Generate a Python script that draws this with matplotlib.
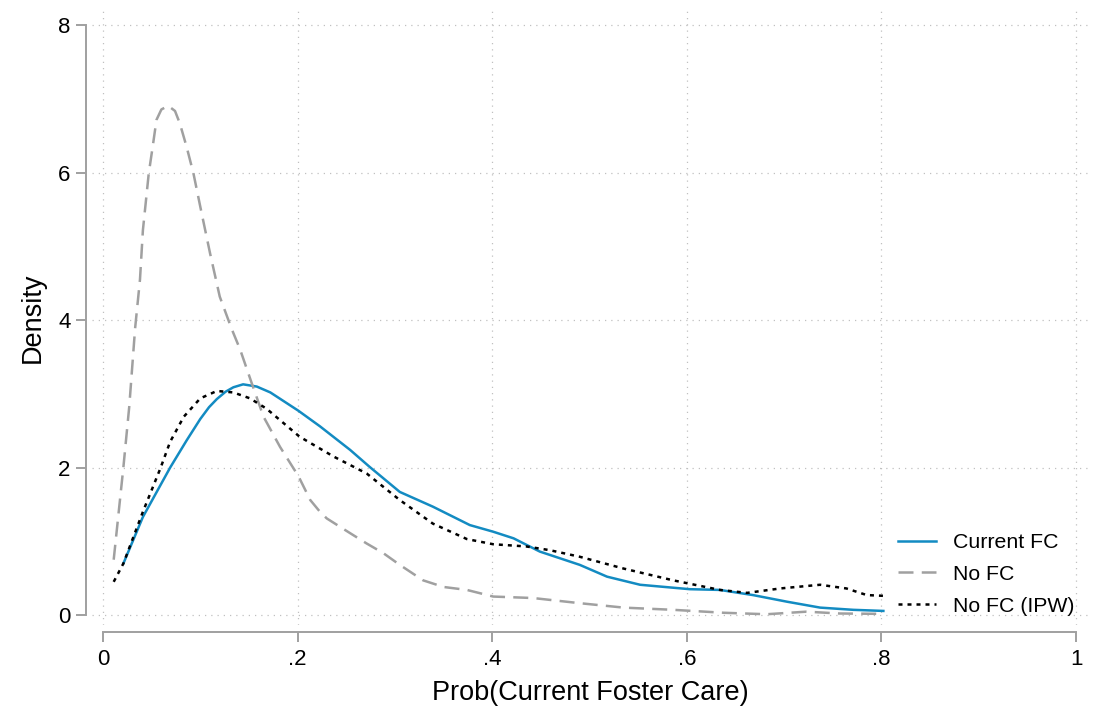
import numpy as np
import matplotlib
matplotlib.use('Agg')
import matplotlib.pyplot as plt

# values (kernel densities of propensity score)
fc_x = [0.021, 0.041, 0.069, 0.086, 0.100, 0.109, 0.117, 0.126, 0.134, 0.144, 0.158, 0.172,
        0.201, 0.223, 0.254, 0.274, 0.305, 0.339, 0.377, 0.401, 0.422, 0.449, 0.490, 0.518,
        0.552, 0.603, 0.634, 0.668, 0.703, 0.737, 0.771, 0.802]
fc_y = [0.70, 1.33, 2.00, 2.37, 2.66, 2.82, 2.93, 3.03, 3.09, 3.13, 3.10, 3.02,
        2.77, 2.56, 2.24, 2.01, 1.67, 1.47, 1.22, 1.13, 1.04, 0.86, 0.68, 0.52,
        0.41, 0.35, 0.34, 0.27, 0.18, 0.10, 0.07, 0.055]

nofc_x = [0.011, 0.021, 0.027, 0.033, 0.038, 0.041, 0.047, 0.051, 0.055, 0.060, 0.067, 0.074,
          0.079, 0.086, 0.093, 0.100, 0.110, 0.120, 0.132, 0.141, 0.153, 0.165, 0.182, 0.201,
          0.213, 0.223, 0.230, 0.254, 0.271, 0.288, 0.305, 0.329, 0.350, 0.374, 0.401, 0.442,
          0.490, 0.535, 0.586, 0.638, 0.682, 0.723, 0.757, 0.802]
nofc_y = [0.75, 2.01, 2.83, 3.89, 4.55, 5.22, 5.99, 6.35, 6.72, 6.86, 6.91, 6.84,
          6.67, 6.35, 5.99, 5.54, 4.91, 4.32, 3.89, 3.60, 3.14, 2.69, 2.28, 1.88,
          1.56, 1.40, 1.31, 1.11, 0.97, 0.84, 0.68, 0.47, 0.38, 0.34, 0.25, 0.23,
          0.16, 0.10, 0.07, 0.03, 0.01, 0.045, 0.02, 0.015]

ipw_x = [0.011, 0.021, 0.041, 0.059, 0.069, 0.083, 0.100, 0.117, 0.134, 0.151, 0.168, 0.202,
         0.237, 0.271, 0.305, 0.339, 0.374, 0.401, 0.435, 0.459, 0.490, 0.535, 0.586, 0.634,
         0.662, 0.696, 0.737, 0.764, 0.785, 0.802]
ipw_y = [0.45, 0.70, 1.40, 1.99, 2.35, 2.69, 2.94, 3.04, 3.02, 2.94, 2.80, 2.42,
         2.15, 1.92, 1.56, 1.24, 1.03, 0.96, 0.93, 0.88, 0.79, 0.63, 0.47, 0.34,
         0.30, 0.36, 0.41, 0.36, 0.27, 0.26]

xticks = [0, 0.2, 0.4, 0.6, 0.8, 1]
xtlabels = ['0', '.2', '.4', '.6', '.8', '1']
yticks = [0, 2, 4, 6, 8]

plt.rcParams['font.family'] = ['Liberation Sans', 'DejaVu Sans']

fig = plt.figure(figsize=(10.95, 7.09), dpi=100)
ax = fig.add_axes([92 / 1095, 84 / 709, 996 / 1095, 615 / 709])

ax.plot(fc_x, fc_y, color='#138bc2', lw=1.8, label='Current FC')
ax.plot(nofc_x, nofc_y, color='#a0a0a0', lw=1.8, dashes=(6, 3.3), label='No FC')
ax.plot(ipw_x, ipw_y, color='black', lw=1.8, dashes=(1.6, 2.0), label='No FC (IPW)')

ax.set_xlim(-0.0113, 1.0123)
ax.set_ylim(-0.136, 8.21)
ax.set_xticks(xticks)
ax.set_xticklabels(xtlabels)
ax.set_yticks(yticks)
ax.set_yticklabels([str(v) for v in yticks], rotation=0)

ax.grid(True, color='#c0c0c0', linestyle=(0, (1, 4)), linewidth=0.9)
ax.set_axisbelow(True)

for side in ['top', 'right']:
    ax.spines[side].set_visible(False)
ax.spines['left'].set_position(('outward', 4.3))
ax.spines['bottom'].set_position(('outward', 5))
ax.spines['left'].set_bounds(0, 8)
ax.spines['bottom'].set_bounds(0, 1)
for side in ['left', 'bottom']:
    ax.spines[side].set_color('#a0a0a0')
    ax.spines[side].set_linewidth(1.4)

ax.tick_params(axis='both', colors='#a0a0a0', width=1.4, length=7.2, labelsize=16,
               labelcolor='black')
ax.tick_params(axis='y', pad=4)
ax.tick_params(axis='x', pad=5)

ax.set_xlabel('Prob(Current Foster Care)', fontsize=19.5, labelpad=7)
ax.set_ylabel('Density', fontsize=19.5, labelpad=9)

ax.legend(loc='upper left', bbox_to_anchor=(898 / 1095, 1 - 533 / 709),
          bbox_transform=fig.transFigure, frameon=False, fontsize=15.3,
          borderpad=0, borderaxespad=0, handlelength=1.8, handletextpad=0.8,
          labelspacing=0.6)

fig.savefig('out.png', dpi=100)
